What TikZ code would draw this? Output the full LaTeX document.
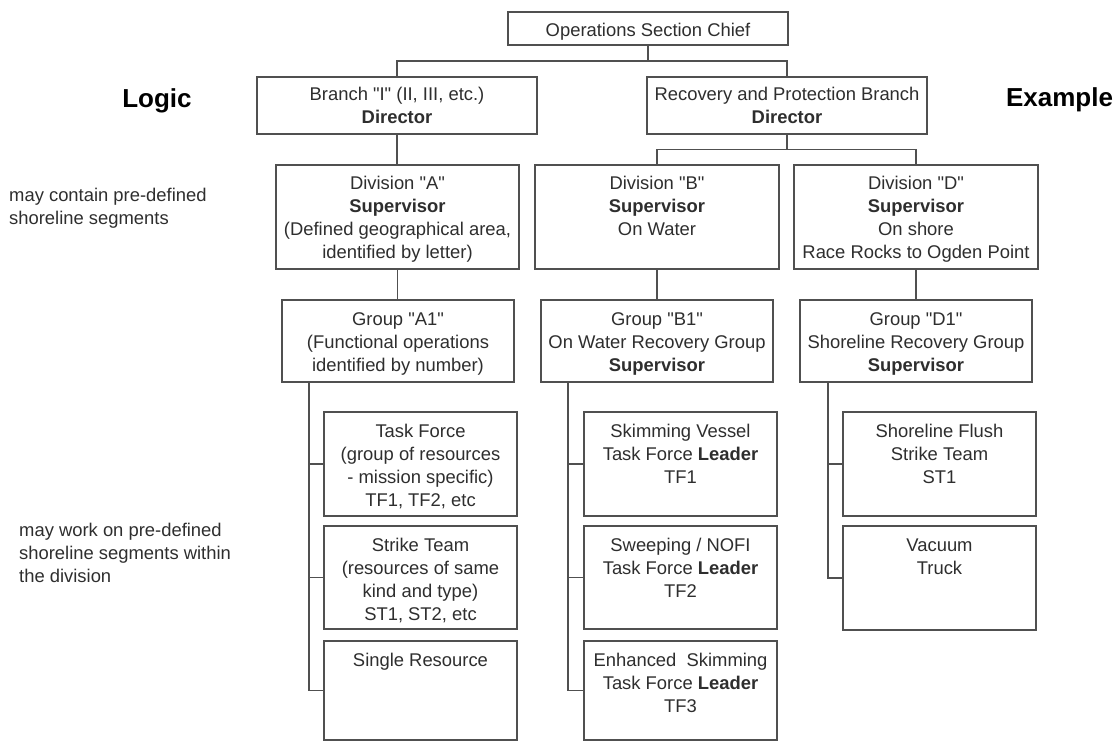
\documentclass[tikz,border=0pt]{standalone}
\usepackage{fontspec}
\setmainfont{Liberation Sans}[Ligatures=TeXOff]
\usetikzlibrary{calc}
\definecolor{edgegray}{HTML}{505050}
\definecolor{inkgray}{HTML}{2E2E2E}
\newlength\boxpad
\setlength\boxpad{8pt}
% name, left, top, right, bottom, text (top-aligned, centred)
\newcommand\orgbox[6]{%
  \node[obox] (#1) at ({(#2+#4)/2},{(#3+#5)/2})
    {\parbox[c][\dimexpr#5pt-#3pt\relax][t]{\dimexpr#4pt-#2pt\relax}%
      {\centering\vspace{\boxpad}\strut #6\par}};}
\begin{document}
\begin{tikzpicture}[x=1pt,y=-1pt,
    every node/.style={text=inkgray},
    obox/.style={draw=edgegray, line width=1.3pt, inner sep=0pt, fill=white,
                 font=\fontsize{18.4}{23}\selectfont},
    link/.style={draw=edgegray, line width=1.3pt},
    heading/.style={font=\fontsize{26}{30}\selectfont\bfseries, text=black, inner sep=0pt},
    note/.style={font=\fontsize{18.4}{23}\selectfont, align=left, inner sep=0pt, anchor=north west}]
\useasboundingbox (0,0) rectangle (1120,743);

% side headings and notes
\node[heading, anchor=base] (logic) at (157,107.3) {Logic};
\node[heading, anchor=base] (example) at (1059.5,106.5) {Example};
\node[note] (note1) at (9,185.5) {\strut may contain pre-defined\\shoreline segments};
\node[note] (note2) at (19,520.5) {\strut may work on pre-defined\\shoreline segments within\\the division};

% command levels
\orgbox{chief}{508}{12}{788}{45}{Operations Section Chief}
\setlength\boxpad{7.5pt}
\orgbox{branchI}{257}{77}{537}{134}{Branch "I" (II, III, etc.)\\\textbf{Director}}
\orgbox{recovery}{647}{77}{927}{134}{Recovery and Protection Branch\\\textbf{Director}}
\setlength\boxpad{8.5pt}
\orgbox{divA}{276}{165}{519}{269}{Division "A"\\\textbf{Supervisor}\\(Defined geographical area,\\identified by letter)}
\orgbox{divB}{535}{165}{779}{269}{Division "B"\\\textbf{Supervisor}\\On Water}
\orgbox{divD}{794}{165}{1038}{269}{Division "D"\\\textbf{Supervisor}\\On shore\\Race Rocks to Ogden Point}
\setlength\boxpad{9pt}
\orgbox{grpA}{282}{300}{514}{382}{Group "A1"\\(Functional operations\\identified by number)}
\orgbox{grpB}{541}{300}{773}{382}{Group "B1"\\On Water Recovery Group\\\textbf{Supervisor}}
\orgbox{grpD}{800}{300}{1032}{382}{Group "D1"\\Shoreline Recovery Group\\\textbf{Supervisor}}

% resource units
\orgbox{tA1}{324}{412}{517}{516}{Task Force\\(group of resources\\- mission specific)\\TF1, TF2, etc}
\orgbox{tA2}{324}{526}{517}{629}{Strike Team\\(resources of same\\kind and type)\\ST1, ST2, etc}
\orgbox{tA3}{324}{641}{517}{740}{Single Resource}
\orgbox{tB1}{584}{412}{777}{516}{Skimming Vessel\\Task Force \textbf{Leader}\\TF1}
\orgbox{tB2}{584}{526}{777}{629}{Sweeping / NOFI\\Task Force \textbf{Leader}\\TF2}
\orgbox{tB3}{584}{641}{777}{740}{Enhanced~ Skimming\\Task Force \textbf{Leader}\\TF3}
\orgbox{tD1}{843}{412}{1036}{516}{Shoreline Flush\\Strike Team\\ST1}
\orgbox{tD2}{843}{526}{1036}{630}{Vacuum\\Truck}

% junctions
\coordinate (jtop) at ($(chief.south)!0.5!(branchI.north -| chief.south)$);
\coordinate (jrec) at ($(recovery.south)!0.5!(divB.north -| recovery.south)$);
\coordinate (busA) at (309,382);
\coordinate (busB) at (568,382);
\coordinate (busD) at (828,382);

% connectors
\draw[link] (chief.south) -- (jtop);
\draw[link] (branchI.north) |- (jtop) -| (recovery.north);
\draw[link] (branchI.south) -- (branchI.south |- divA.north);
\draw[link] (recovery.south) -- (jrec);
\draw[link] (divB.north) |- (jrec) -| (divD.north);
\draw[link] (divA.south) -- (divA.south |- grpA.north);
\draw[link] (divB.south) -- (divB.south |- grpB.north);
\draw[link] (divD.south) -- (divD.south |- grpD.north);

\draw[link] (busA) |- (tA1.west);
\draw[link] (busA) |- (tA2.west);
\draw[link] (busA) |- (tA3.west);
\draw[link] (busB) |- (tB1.west);
\draw[link] (busB) |- (tB2.west);
\draw[link] (busB) |- (tB3.west);
\draw[link] (busD) |- (tD1.west);
\draw[link] (busD) |- (tD2.west);
\end{tikzpicture}
\end{document}
